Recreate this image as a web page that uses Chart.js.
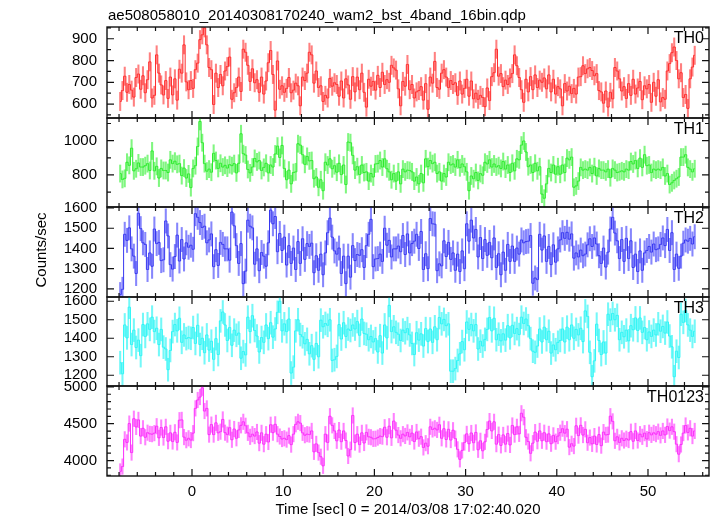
<!DOCTYPE html>
<html>
<head>
<meta charset="utf-8">
<script src="https://cdn.jsdelivr.net/npm/chart.js@4.4.1/dist/chart.umd.min.js"></script>
<style>
  html, body { margin: 0; padding: 0; background: #ffffff; }
  #wrap { position: relative; width: 717px; height: 516px; overflow: hidden; background: #fff; }
  #wrap canvas { position: absolute; left: 0; top: 0; }
  .txt { position: absolute; font-family: "Liberation Sans", Arial, sans-serif; font-weight: normal; color: #000; white-space: nowrap; line-height: 1; }
</style>
</head>
<body>
<div id="wrap">
  <canvas id="c0" width="717" height="516"></canvas>
  <canvas id="c1" width="717" height="516"></canvas>
  <canvas id="c2" width="717" height="516"></canvas>
  <canvas id="c3" width="717" height="516"></canvas>
  <canvas id="c4" width="717" height="516"></canvas>
  <div class="txt" id="title" style="left:108px; top:7px; font-size:15px;"></div>
  <div class="txt" id="xtitle" style="left:408px; top:501px; font-size:15px; transform: translateX(-50%);"></div>
</div>
<script>
// ---------------- data ----------------
const TITLE = "ae508058010_20140308170240_wam2_bst_4band_16bin.qdp";
const X_TITLE = "Time [sec] 0 = 2014/03/08 17:02:40.020";
const Y_TITLE = "Counts/sec";
const PANEL_LABELS = ["TH0", "TH1", "TH2", "TH3", "TH0123"];

const T_START = -7.875;   // centre of first 0.25 s bin
const BIN = 0.25;

const TH0 = [
 612,662,728,654, 690,664,632,722, 738,668,730,652, 712,794,628,640, 826,742,688,642,
 708,626,724,642, 716,618,760,742, 872,702,666,708, 672,758,788,896, 918,950,872,768,
 758,598,742,676, 736,684,752,772, 816,622,652,676, 724,658,852,838, 778,704,762,698,
 712,654,724,646, 706,790,846,736, 572,798,668,684, 654,672,722,652, 664,696,684,592,
 724,708,742,838, 826,696,752,676, 684,612,640,628, 718,682,698,690, 636,706,628,716,
 688,622,726,656, 724,666,742,654, 586,714,682,704, 664,732,676,746, 690,712,700,778,
 766,756,670,592, 704,682,782,666, 690,628,656,662, 680,618,694,576, 724,696,796,676,
 668,742,758,724, 676,708,690,698, 640,706,646,672, 714,636,706,624, 650,622,640,630,
 588,674,616,726, 744,852,728,740, 680,710,690,720, 740,826,776,722, 666,608,714,656,
 726,666,734,676, 710,700,720,670, 734,656,714,646, 680,670,592,694, 660,682,648,672,
 646,724,726,776, 740,762,768,754, 730,740,662,656, 604,660,586,654, 624,768,752,716,
 660,680,626,694, 640,714,646,674, 704,620,684,670, 690,608,700,636, 712,610,630,622,
 752,786,836,862, 800,716,744,630, 644,580,716,770, 824
];
const TH1 = [
 808,774,780,874, 856,956,824,836, 870,846,846,854, 866,826,940,824, 850,782,838,826,
 826,814,888,866, 880,862,866,796, 840,782,806,726, 838,854,966,1112, 988,866,822,834,
 816,926,884,838, 868,846,856,840, 860,854,866,812, 868,1040,924,916, 832,812,846,896,
 876,884,826,844, 868,812,858,846, 922,968,902,972, 838,772,828,748, 814,818,982,974,
 918,862,908,882, 884,778,788,728, 772,708,874,858, 894,836,854,816, 868,802,858,744,
 992,988,914,828, 848,802,858,814, 818,764,808,788, 864,866,884,846, 894,836,818,772,
 808,764,818,748, 834,818,828,826, 818,764,788,748, 808,754,894,848, 884,866,874,808,
 818,764,808,788, 874,858,864,846, 888,842,864,848, 818,708,794,778, 814,768,808,798,
 874,864,888,846, 864,846,854,838, 878,834,858,814, 868,824,894,888, 974,998,934,848,
 858,814,868,824, 848,688,664,748, 838,814,858,804, 848,804,858,814, 898,888,904,728,
 736,764,844,828, 834,828,844,808, 848,794,838,828, 828,818,834,784, 838,828,814,818,
 824,818,834,828, 878,864,884,838, 898,844,918,854, 858,814,834,828, 834,828,844,794,
 808,744,754,768, 778,788,904,904, 918,844,834,818, 836
];
const TH2 = [
 1172,1198,1470,1440, 1502,1398,1362,1276, 1574,1498,1428,1420, 1296,1378,1312,1496, 1424,1430,1340,1344,
 1536,1462,1320,1298, 1360,1466,1338,1444, 1348,1428,1406,1416, 1396,1572,1554,1528, 1504,1510,1428,1442,
 1472,1310,1394,1316, 1430,1420,1398,1398, 1342,1580,1512,1414, 1326,1424,1226,1288, 1540,1510,1502,1322,
 1398,1290,1380,1362, 1312,1428,1590,1522, 1558,1384,1474,1390, 1456,1318,1414,1326, 1402,1296,1434,1326,
 1448,1346,1424,1410, 1426,1280,1364,1292, 1372,1270,1378,1478, 1550,1456,1388,1372, 1402,1276,1362,1226,
 1362,1258,1414,1340, 1370,1366,1394,1306, 1414,1470,1544,1310, 1348,1350,1372,1336, 1500,1416,1440,1358,
 1398,1398,1412,1384, 1464,1370,1472,1378, 1424,1436,1470,1400, 1484,1296,1374,1300, 1548,1522,1520,1290,
 1324,1314,1438,1360, 1430,1346,1378,1292, 1372,1286,1388,1300, 1522,1436,1540,1452, 1494,1358,1454,1350,
 1444,1366,1430,1354, 1452,1306,1374,1270, 1382,1292,1420,1336, 1412,1336,1402,1372, 1442,1428,1434,1436,
 1464,1228,1254,1246, 1470,1392,1462,1336, 1410,1320,1418,1332, 1398,1442,1478,1450, 1480,1446,1472,1352,
 1378,1358,1392,1364, 1372,1418,1448,1410, 1452,1422,1364,1326, 1402,1308,1382,1496, 1554,1476,1438,1350,
 1444,1336,1450,1350, 1438,1306,1372,1286, 1388,1292,1378,1390, 1410,1382,1422,1394, 1398,1420,1452,1414,
 1494,1390,1478,1296, 1372,1302,1362,1426, 1442,1436,1450,1422, 1458
];
const TH3 = [
 1268,1208,1472,1402, 1568,1366,1444,1350, 1390,1306,1474,1410, 1478,1448,1514,1436, 1454,1366,1448,1352,
 1342,1230,1334,1436, 1474,1440,1508,1378, 1418,1398,1404,1400, 1458,1372,1470,1366, 1400,1322,1418,1336,
 1384,1286,1398,1312, 1494,1542,1472,1388, 1458,1362,1444,1416, 1428,1292,1328,1310, 1514,1436,1522,1442,
 1412,1326,1404,1378, 1472,1398,1484,1406, 1450,1540,1600,1440, 1478,1436,1504,1212, 1244,1440,1500,1420,
 1408,1370,1394,1316, 1360,1286,1372,1300, 1498,1462,1480,1470, 1500,1280,1284,1302, 1474,1396,1484,1410,
 1450,1442,1472,1450, 1490,1416,1504,1426, 1422,1392,1410,1380, 1398,1326,1414,1320, 1472,1402,1578,1436,
 1462,1432,1422,1388, 1444,1430,1452,1418, 1372,1312,1430,1390, 1424,1358,1452,1382, 1450,1378,1462,1392,
 1512,1478,1502,1468, 1478,1222,1222,1236, 1280,1316,1382,1338, 1488,1448,1474,1440, 1474,1342,1384,1358,
 1394,1448,1512,1440, 1508,1392,1422,1386, 1424,1390,1468,1402, 1470,1426,1452,1420, 1514,1480,1504,1468,
 1398,1330,1324,1358, 1450,1380,1460,1392, 1438,1320,1364,1338, 1378,1388,1450,1380, 1460,1392,1472,1400,
 1448,1418,1454,1382, 1548,1518,1324,1192, 1278,1476,1388,1312, 1380,1320,1530,1498, 1534,1500,1524,1392,
 1432,1408,1444,1386, 1468,1446,1510,1442, 1510,1432,1458,1392, 1434,1410,1444,1418, 1478,1438,1464,1428,
 1488,1412,1354,1192, 1330,1296,1530,1486, 1550,1472,1444,1410, 1438
];
const TH0123 = [
 3852,3918,4288,4246, 4502,4108,4568,4456, 4552,4332,4438,4316, 4378,4362,4358,4372, 4466,4308,4448,4312,
 4458,4262,4376,4258, 4384,4246,4548,4552, 4318,4276,4302,4278, 4372,4708,4822,4862, 4988,4672,4708,4352,
 4488,4352,4512,4376, 4392,4558,4378,4352, 4446,4282,4428,4302, 4416,4478,4526,4472, 4376,4322,4358,4332,
 4388,4236,4376,4222, 4358,4252,4486,4378, 4492,4358,4326,4292, 4302,4284,4338,4216, 4358,4492,4526,4508,
 4376,4344,4358,4352, 4402,4118,4226,4108, 4052,3928,4358,4246, 4602,4478,4402,4268, 4414,4256,4402,4272,
 4062,4148,4612,4244, 4358,4216,4376,4238, 4382,4322,4316,4294, 4296,4312,4332,4324, 4452,4316,4466,4308,
 4536,4412,4346,4302, 4358,4334,4382,4322, 4372,4258,4388,4296, 4324,4178,4236,4194, 4458,4422,4438,4416,
 4486,4302,4432,4286, 4424,4278,4412,4298, 4152,4016,4138,4244, 4362,4228,4374,4242, 4382,4146,4268,4132,
 4254,4422,4536,4402, 4526,4222,4352,4206, 4348,4222,4366,4212, 4476,4352,4458,4362, 4642,4588,4316,4258,
 4098,4236,4386,4262, 4402,4268,4378,4256, 4362,4228,4342,4256, 4332,4378,4432,4372, 4426,4182,4228,4196,
 4472,4338,4478,4346, 4424,4242,4312,4226, 4332,4218,4352,4202, 4386,4348,4352,4602, 4532,4268,4322,4246,
 4302,4272,4296,4278, 4392,4262,4402,4272, 4358,4322,4372,4292, 4378,4348,4376,4358, 4392,4342,4402,4348,
 4462,4406,4458,4392, 4222,4086,4218,4372, 4476,4382,4438,4332, 4402
];
const SERIES = [TH0, TH1, TH2, TH3, TH0123];
// half-length of the error bars (counts/sec)
const ERR_HALF = [42, 50, 60, 62, 105];

// axes
const X_MIN = -9.32, X_MAX = 56.69;
const X_LABELS = [0, 10, 20, 30, 40, 50];
const X_MINOR = [-8, -6, -4, -2, 2, 4, 6, 8, 12, 14, 16, 18, 22, 24, 26, 28, 32, 34, 36, 38, 42, 44, 46, 48, 52, 54, 56];
const Y_RANGES = [[536, 954], [613, 1132], [1160, 1605], [1142, 1623], [3790, 5012]];
const Y_LABELS = [
  [600, 700, 800, 900],
  [800, 1000],
  [1200, 1300, 1400, 1500, 1600],
  [1200, 1300, 1400, 1500, 1600],
  [4000, 4500, 5000]
];
const Y_MINOR = [
  [550, 650, 750, 850, 950],
  [700, 900, 1100],
  [],
  [],
  [3800, 3900, 4100, 4200, 4300, 4400, 4600, 4700, 4800, 4900]
];

// ---------------- style / layout ----------------
const LINE_COLORS = ["rgb(255,45,45)", "rgb(45,235,45)", "rgb(55,55,240)", "rgb(45,245,245)", "rgb(250,45,250)"];
const ERR_COLORS  = ["rgba(255,50,50,0.62)", "rgba(50,240,50,0.62)", "rgba(60,60,250,0.62)", "rgba(50,245,245,0.68)", "rgba(255,50,255,0.62)"];
const PANEL_EDGES = [27, 118, 207, 297, 386, 476];
const PLOT_L = 107, PLOT_R = 709, YW = 60, XH = 40;
const FONT = "'Liberation Sans', Arial, sans-serif";
const Y_TITLE_POS = [42, 250];

document.getElementById('title').textContent = TITLE;
document.getElementById('xtitle').textContent = X_TITLE;

const frameTicks = {
  id: 'frameTicks',
  afterDatasetsDraw(chart, args, opts) {
    const {ctx, chartArea: a, scales} = chart;
    ctx.save();
    ctx.strokeStyle = '#111';
    ctx.lineWidth = 1.4;
    ctx.strokeRect(a.left, a.top, a.right - a.left, a.bottom - a.top);
    ctx.lineWidth = 1.2;
    ctx.beginPath();
    const xs = scales.x, ys = scales.y;
    const xt = (v, len) => {
      const p = xs.getPixelForValue(v);
      ctx.moveTo(p, a.top); ctx.lineTo(p, a.top + len);
      ctx.moveTo(p, a.bottom); ctx.lineTo(p, a.bottom - len);
    };
    const yt = (v, len) => {
      const p = ys.getPixelForValue(v);
      if (p < a.top - 0.5 || p > a.bottom + 0.5) return;
      ctx.moveTo(a.left, p); ctx.lineTo(a.left + len, p);
      ctx.moveTo(a.right, p); ctx.lineTo(a.right - len, p);
    };
    X_LABELS.forEach(v => xt(v, 7));
    X_MINOR.forEach(v => xt(v, 4));
    opts.yMajor.forEach(v => yt(v, 7));
    opts.yMinor.forEach(v => yt(v, 4));
    ctx.stroke();
    // panel label
    ctx.fillStyle = '#000';
    ctx.font = '16px ' + FONT;
    ctx.textAlign = 'right';
    ctx.textBaseline = 'alphabetic';
    ctx.fillText(opts.label, a.right - 5, a.top + 16);
    // shared y-axis title (drawn once, by the middle panel)
    if (opts.yTitle) {
      ctx.translate(Y_TITLE_POS[0], Y_TITLE_POS[1]);
      ctx.rotate(-Math.PI / 2);
      ctx.font = '15px ' + FONT;
      ctx.textAlign = 'center';
      ctx.textBaseline = 'middle';
      ctx.fillText(opts.yTitle, 0, 0);
    }
    ctx.restore();
  }
};

SERIES.forEach((vals, k) => {
  const isBottom = k === SERIES.length - 1;
  const top = PANEL_EDGES[k], bottom = PANEL_EDGES[k + 1];
  const line = vals.map((v, i) => ({x: T_START + i * BIN, y: v}));
  const errs = vals.map((v, i) => ({x: T_START + i * BIN, y: [v - ERR_HALF[k], v + ERR_HALF[k]]}));
  new Chart(document.getElementById('c' + k), {
    type: 'bar',
    data: {
      datasets: [
        { type: 'line', data: line, stepped: 'middle', borderColor: LINE_COLORS[k], borderWidth: 1,
          pointRadius: 0, fill: false, order: 0 },
        { type: 'bar', data: errs, backgroundColor: ERR_COLORS[k], borderWidth: 0, barThickness: 1.4, order: 1 }
      ]
    },
    options: {
      responsive: false, animation: false, events: [],
      layout: { padding: { left: PLOT_L - YW, right: 717 - PLOT_R, top: top, bottom: 516 - bottom - (isBottom ? XH : 0) } },
      plugins: {
        legend: { display: false }, tooltip: { enabled: false },
        frameTicks: { yMajor: Y_LABELS[k], yMinor: Y_MINOR[k], label: PANEL_LABELS[k], yTitle: k === 2 ? Y_TITLE : null }
      },
      scales: {
        x: {
          type: 'linear', min: X_MIN, max: X_MAX, offset: false, display: isBottom,
          grid: { display: false, drawTicks: false }, border: { display: false },
          ticks: { font: { family: FONT, size: 15 }, color: '#000', padding: 7, maxRotation: 0,
                   includeBounds: false, autoSkip: false, callback: v => String(v) },
          afterBuildTicks: s => { s.ticks = X_LABELS.map(v => ({value: v})); },
          afterFit: s => { s.height = isBottom ? XH : 0; }
        },
        y: {
          type: 'linear', min: Y_RANGES[k][0], max: Y_RANGES[k][1],
          grid: { display: false, drawTicks: false }, border: { display: false },
          ticks: { font: { family: FONT, size: 15 }, color: '#000', padding: 10,
                   includeBounds: false, autoSkip: false, callback: v => String(v) },
          afterBuildTicks: s => { s.ticks = Y_LABELS[k].map(v => ({value: v})); },
          afterFit: s => { s.width = YW; }
        }
      }
    },
    plugins: [frameTicks]
  });
});
</script>
</body>
</html>
